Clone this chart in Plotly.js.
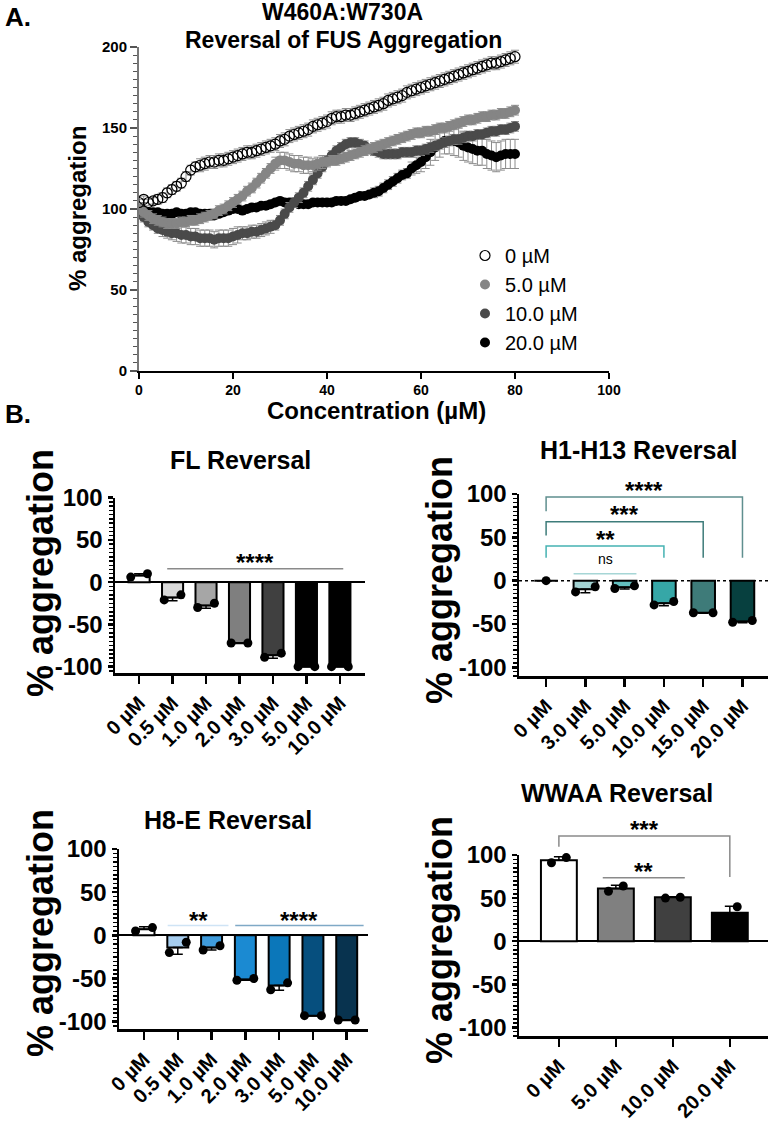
<!DOCTYPE html>
<html><head><meta charset="utf-8">
<script src="https://cdn.plot.ly/plotly-3.0.1.min.js"></script>
<style>html,body{margin:0;padding:0;background:#fff}#chart{width:771px;height:1121px}</style>
</head><body><div id="chart"></div>
<script>
// ---------- Panel A data ----------
const concX = [0,1,2,3,4,5,6,7,8,9,10,11,12,13,14,15,16,17,18,19,20,21,22,23,24,25,26,27,28,29,30,31,32,33,34,35,36,37,38,39,40,41,42,43,44,45,46,47,48,49,50,51,52,53,54,55,56,57,58,59,60,61,62,63,64,65,66,67,68,69,70,71,72,73,74,75,76,77,78,79,80];
const agg0 = [104,106,104,105,106,107,110,112,114,116,120,124,126,127,128,129,129,130,130,131,132,133,134,135,135,136,137,138,139,140,142,143,145,146,147,148,149,151,152,153,154,156,157,157,158,158,159,160,161,162,163,164,165,167,168,169,170,172,173,174,175,176,177,178,179,180,181,182,183,184,185,186,187,188,189,190,190,191,192,193,194];
const err0 = [2,2,2,2,3,3,3,3,3,3,3,3,3,4,4,4,4,4,4,4,4,4,4,4,4,4,4,4,4,4,4,4,4,4,4,4,4,4,4,4,4,4,4,4,4,4,4,4,4,4,4,4,4,4,4,4,4,4,4,4,4,4,4,4,4,4,4,4,4,4,4,4,4,4,4,4,4,4,4,4,4];
const agg5 = [100,98,96,94,93,92,91,91,91,92,92,93,93,94,95,96,97,99,100,102,104,106,108,111,113,116,119,122,125,128,130,130,129,128,128,127,127,127,128,129,129,130,130,131,132,133,134,135,136,137,138,139,140,141,142,143,144,145,146,147,147,148,148,149,150,150,151,152,153,154,155,155,156,157,157,158,158,159,159,160,161];
const err5 = [3,3,3,3,3,3,3,3,3,3,3,3,3,3,3,3,3,3,3,3,3,3,3,3,3,3,3,3,3,4,5,5,5,5,5,5,5,4,4,4,3,3,3,3,3,3,3,3,3,3,3,3,3,3,3,3,3,3,3,3,3,3,3,3,3,3,3,3,3,3,3,3,3,3,3,3,3,3,3,3,3];
const agg10 = [98,95,92,90,88,87,86,85,85,84,84,83,83,82,82,82,81,82,82,82,83,84,85,85,86,86,87,88,89,90,93,97,101,104,107,110,114,118,122,126,130,133,136,138,140,141,141,140,139,137,136,135,134,134,134,134,135,135,135,136,136,137,138,139,140,141,142,143,143,144,145,145,146,146,147,148,148,149,149,150,151];
const err10 = [3,3,3,3,3,4,4,4,5,5,5,5,5,5,5,5,5,5,5,5,5,5,4,4,4,4,4,4,4,3,3,3,3,3,3,3,3,3,3,3,3,3,3,3,3,3,3,3,3,3,3,3,3,3,3,3,3,3,3,3,3,3,3,3,3,3,3,3,3,3,3,3,3,3,3,3,3,3,3,3,3];
const agg20 = [100,99,98,98,98,97,97,97,98,97,97,98,98,97,97,97,96,97,98,99,100,100,99,100,101,101,102,102,103,104,105,104,104,104,103,103,103,104,104,104,104,104,105,105,105,106,107,108,108,109,110,111,113,115,117,119,121,122,125,127,129,132,135,138,140,142,142,142,141,139,138,137,136,136,134,133,132,133,134,134,134];
const err20 = [2,2,2,2,2,2,2,2,2,2,2,2,2,2,2,2,2,2,2,2,2,2,2,2,2,2,2,2,2,2,2,2,2,2,2,2,2,2,2,2,2,2,2,2,2,2,2,2,2,2,3,3,3,3,3,3,3,3,4,5,6,7,8,8,8,8,8,9,9,9,9,9,9,9,9,9,9,9,9,9,9];
const seriesNames = ['0 µM','5.0 µM','10.0 µM','20.0 µM'];
const aTicksX = [0,20,40,60,80,100];
const aTicksY = [0,50,100,150,200];

// ---------- Panel B data ----------
const FL_cats = ['0 µM','0.5 µM','1.0 µM','2.0 µM','3.0 µM','5.0 µM','10.0 µM'];
const FL_mean = [8,-18,-27.5,-72,-86.5,-100,-100];
const FL_rep1 = [6,-21,-30,-72,-89,-100,-100];
const FL_rep2 = [10,-15,-25,-72,-84,-100,-100];
const FL_err  = [2,4,3.5,0.5,3.5,0,0];
const FL_sigFrom = [1], FL_sigTo = [6], FL_sigY = [16], FL_sigDropL = [null], FL_sigDropR = [null];
const FL_sigLabel = ['****'], FL_sigLabelY = [30];

const H1_cats = ['0 µM','3.0 µM','5.0 µM','10.0 µM','15.0 µM','20.0 µM'];
const H1_mean = [0,-10,-7.5,-26,-37,-47];
const H1_rep1 = [0,-13,-9,-28,-37,-48];
const H1_rep2 = [null,-7,-6,-24,-37,-46];
const H1_err  = [0,4,2,3,0.5,1.5];
const H1_sigFrom = [1,0,0,0], H1_sigTo = [2,3,4,5], H1_sigY = [8,40,68,96.5];
const H1_sigDropL = [null,26.5,52,80], H1_sigDropR = [null,26.5,26.5,26.5];
const H1_sigLabel = ['ns','**','***','****'], H1_sigLabelY = [25,54,83,110.7];

const H8_cats = ['0 µM','0.5 µM','1.0 µM','2.0 µM','3.0 µM','5.0 µM','10.0 µM'];
const H8_mean = [7,-14,-14,-51,-58,-93,-98];
const H8_rep1 = [5,-20,-17,-52,-63,-93,-98];
const H8_rep2 = [9,-8,-12,-50,-55,-93,-98];
const H8_err  = [3,8,3,1,5.5,0.5,0.5];
const H8_sigFrom = [1,3], H8_sigTo = [2,6], H8_sigY = [11.5,11.5], H8_sigDropL = [null,null], H8_sigDropR = [null,null];
const H8_sigLabel = ['**','****'], H8_sigLabelY = [24.7,24.7];

const WW_cats = ['0 µM','5.0 µM','10.0 µM','20.0 µM'];
const WW_mean = [94,61,51,33];
const WW_rep1 = [91,58,50,26];
const WW_rep2 = [97,64,51,40];
const WW_err  = [4,4,0.5,7.5];
const WW_sigFrom = [0,1], WW_sigTo = [3,2], WW_sigY = [122,73.5], WW_sigDropL = [109.5,null], WW_sigDropR = [74.6,null];
const WW_sigLabel = ['***','**'], WW_sigLabelY = [137,88];

const bTickVals = [-100,-50,0,50,100];
const bTickText = ['-100','-50','0','50','100'];

// ---------- styling / layout helpers ----------
const W = 771, H = 1121;
const FONT = 'Liberation Sans, Arial, sans-serif';
const PX = p => p / W;
const PY = p => 1 - p / H;
const bold = (s) => ({family: FONT, size: s, color: '#000', weight: 'bold'});

const traces = [];
const annotations = [];
const shapes = [];
const layout = {
  width: W, height: H, margin: {l:0, r:0, t:0, b:0},
  paper_bgcolor: '#fff', plot_bgcolor: 'rgba(0,0,0,0)',
  showlegend: true,
  legend: {x: PX(465), y: PY(236), xanchor: 'left', yanchor: 'top', bgcolor: 'rgba(0,0,0,0)',
           font: {family: FONT, size: 20, color: '#000'}, traceorder: 'normal', itemwidth: 30, tracegroupgap: 0},
  bargap: 0, annotations, shapes
};

// ---------- Panel A ----------
const aStyles = [
  {sym: 'circle-open', color: '#000', lw: 1.2},
  {sym: 'circle', color: '#858585', lw: 0},
  {sym: 'circle', color: '#4a4a4a', lw: 0},
  {sym: 'circle', color: '#000000', lw: 0}
];
const aY = [agg0, agg5, agg10, agg20];
const aE = [err0, err5, err10, err20];
[3,2,1,0].forEach(i => {
  traces.push({
    type: 'scatter', mode: 'markers', x: concX, y: aY[i], name: seriesNames[i],
    legendrank: i + 1, xaxis: 'x', yaxis: 'y',
    marker: {symbol: aStyles[i].sym, size: 10, color: aStyles[i].color,
             line: {color: aStyles[i].color, width: aStyles[i].lw}},
    error_y: {type: 'data', array: aE[i], color: '#8c8c8c', thickness: 1, width: 4},
    hoverinfo: 'skip'
  });
});
layout.xaxis = {domain: [PX(139), PX(609)], range: [0, 100], anchor: 'y',
  tickmode: 'array', tickvals: aTicksX, ticks: 'outside', ticklen: 6, tickwidth: 1.5, tickcolor: '#000',
  showline: true, linecolor: '#000', linewidth: 1.5, showgrid: false, zeroline: false,
  tickfont: bold(14)};
layout.yaxis = {domain: [PY(371), PY(47)], range: [0, 200], anchor: 'x',
  tickmode: 'array', tickvals: aTicksY, ticks: 'outside', ticklen: 7, tickwidth: 1.5, tickcolor: '#555',
  minor: {tick0: 0, dtick: 5, ticks: 'outside', ticklen: 4, tickwidth: 1, tickcolor: '#555'},
  showline: true, linecolor: '#777', linewidth: 2, showgrid: false, zeroline: false,
  tickfont: bold(15)};
annotations.push(
  {text: 'A.', xref: 'paper', yref: 'paper', x: PX(3), y: PY(17), xanchor: 'left', yanchor: 'middle', showarrow: false, font: bold(26)},
  {text: 'W460A:W730A', xref: 'paper', yref: 'paper', x: PX(342), y: PY(12), xanchor: 'center', yanchor: 'middle', showarrow: false, font: bold(23)},
  {text: 'Reversal of FUS Aggregation', xref: 'paper', yref: 'paper', x: PX(343), y: PY(40), xanchor: 'center', yanchor: 'middle', showarrow: false, font: bold(23)},
  {text: '% aggregation', xref: 'paper', yref: 'paper', x: PX(78), y: PY(209), xanchor: 'center', yanchor: 'middle', textangle: -90, showarrow: false, font: bold(24)},
  {text: 'Concentration (µM)', xref: 'paper', yref: 'paper', x: PX(376), y: PY(410), xanchor: 'center', yanchor: 'middle', showarrow: false, font: bold(24)},
  {text: 'B.', xref: 'paper', yref: 'paper', x: PX(3), y: PY(414), xanchor: 'left', yanchor: 'middle', showarrow: false, font: bold(26)}
);

// ---------- Panel B builder ----------
function barPanel(k, d, g) {
  const xa = 'x' + k, ya = 'y' + k, yS = 'y' + (k + 4);
  const idx = d.cats.map((_, i) => i);
  traces.push({
    type: 'bar', x: idx, y: d.mean, xaxis: xa, yaxis: ya, width: g.barW, showlegend: false, hoverinfo: 'skip',
    marker: {color: g.colors, line: {color: '#000', width: 2}},
    error_y: {type: 'data', symmetric: false,
      array: d.mean.map((m, i) => m >= 0 ? d.err[i] : 0),
      arrayminus: d.mean.map((m, i) => m < 0 ? d.err[i] : 0),
      color: '#000', thickness: 1.5, width: 5}
  });
  const dx = [], dy = [];
  idx.forEach(i => {
    if (d.rep2[i] == null) { dx.push(i); dy.push(d.rep1[i]); }
    else { dx.push(i - g.jit, i + g.jit); dy.push(d.rep1[i], d.rep2[i]); }
  });
  traces.push({type: 'scatter', mode: 'markers', x: dx, y: dy, xaxis: xa, yaxis: ya, showlegend: false, hoverinfo: 'skip',
    cliponaxis: false, marker: {color: '#000', size: 9}});

  // significance on an extended (invisible) axis sharing the same scale
  const extTop = g.t - 80;
  const yhi = g.ylo + (100 - g.ylo) * (g.b - extTop) / (g.b - g.t);
  layout['yaxis' + (k + 4)] = {domain: [PY(g.b), PY(extTop)], range: [g.ylo, yhi], anchor: xa, visible: false, fixedrange: true};
  d.sigFrom.forEach((f, j) => {
    const t = d.sigTo[j];
    let xs, ys;
    if (d.sigDropL[j] == null) {
      xs = [f - g.extL, t + g.extR]; ys = [d.sigY[j], d.sigY[j]];
    } else {
      xs = [f, f, t, t]; ys = [d.sigDropL[j], d.sigY[j], d.sigY[j], d.sigDropR[j]];
    }
    traces.push({type: 'scatter', mode: 'lines', x: xs, y: ys, xaxis: xa, yaxis: yS, showlegend: false, hoverinfo: 'skip',
      line: {color: g.sigColors[j], width: 1.5}});
    const isNs = d.sigLabel[j] === 'ns';
    annotations.push({text: d.sigLabel[j], xref: xa, yref: yS, x: (xs[0] + xs[xs.length - 1]) / 2, y: d.sigLabelY[j],
      xanchor: 'center', yanchor: 'middle', showarrow: false, yshift: isNs ? 0 : -6,
      font: isNs ? {family: FONT, size: 14, color: '#000'} : bold(24)});
  });

  layout['xaxis' + k] = {domain: [PX(g.l), PX(g.r)], range: g.xr, anchor: ya,
    tickmode: 'array', tickvals: idx, ticktext: d.cats, tickangle: -45,
    ticks: 'outside', ticklen: 8, tickwidth: 2.5, tickcolor: '#000',
    showline: true, linecolor: '#000', linewidth: 2.5, showgrid: false, zeroline: false,
    tickfont: bold(20)};
  layout['yaxis' + k] = {domain: [PY(g.b), PY(g.t)], range: [g.ylo, 100], anchor: xa,
    tickmode: 'array', tickvals: bTickVals, ticktext: bTickText,
    ticks: 'outside', ticklen: 5, tickwidth: 2.5, tickcolor: '#000',
    minor: {tick0: 0, dtick: 5, ticks: 'outside', ticklen: 4, tickwidth: 1.5, tickcolor: '#000'},
    showline: true, linecolor: '#000', linewidth: 2.5, showgrid: false,
    zeroline: !g.dotZero, zerolinecolor: '#000', zerolinewidth: 2,
    tickfont: bold(24)};
  if (g.dotZero) {
    shapes.push({type: 'line', xref: xa + ' domain', yref: ya, x0: 0, x1: 1, y0: 0, y1: 0,
      line: {color: '#000', width: 1.5, dash: 'dot'}, layer: 'below'});
  }
  annotations.push(
    {text: g.title, xref: 'paper', yref: 'paper', x: PX(g.titleX), y: PY(g.titleY), xanchor: 'center', yanchor: 'middle', showarrow: false, font: bold(25)},
    {text: '% aggregation', xref: 'paper', yref: 'paper', x: PX(g.ytX), y: PY(g.ytY), xanchor: 'center', yanchor: 'middle', textangle: -90, showarrow: false, font: bold(36)}
  );
}

barPanel(2,
  {cats: FL_cats, mean: FL_mean, rep1: FL_rep1, rep2: FL_rep2, err: FL_err,
   sigFrom: FL_sigFrom, sigTo: FL_sigTo, sigY: FL_sigY, sigDropL: FL_sigDropL, sigDropR: FL_sigDropR, sigLabel: FL_sigLabel, sigLabelY: FL_sigLabelY},
  {l: 115, r: 365, t: 497.7, b: 673, xr: [-0.72, 6.75], ylo: -107.5, jit: 0.25, barW: 0.63, extL: 0.16, extR: 0.1,
   colors: ['#ffffff','#d9d9d9','#a6a6a6','#7f7f7f','#404040','#000000','#000000'],
   sigColors: ['#8a8a8a'], dotZero: false, title: 'FL Reversal', titleX: 240, titleY: 460, ytX: 40, ytY: 573});

barPanel(3,
  {cats: H1_cats, mean: H1_mean, rep1: H1_rep1, rep2: H1_rep2, err: H1_err,
   sigFrom: H1_sigFrom, sigTo: H1_sigTo, sigY: H1_sigY, sigDropL: H1_sigDropL, sigDropR: H1_sigDropR, sigLabel: H1_sigLabel, sigLabelY: H1_sigLabelY},
  {l: 519, r: 768, t: 494, b: 676, xr: [-0.69, 5.65], ylo: -110, jit: 0.25, barW: 0.6, extL: 0.3, extR: 0.3,
   colors: ['#ffffff','#a3d3d3','#63bfbf','#36a7a7','#3e7b79','#07403f'],
   sigColors: ['#a6d6d6','#45b2b2','#3e7c7a','#5f8f8f'], dotZero: true, title: 'H1-H13 Reversal', titleX: 638, titleY: 450, ytX: 439, ytY: 580});

barPanel(4,
  {cats: H8_cats, mean: H8_mean, rep1: H8_rep1, rep2: H8_rep2, err: H8_err,
   sigFrom: H8_sigFrom, sigTo: H8_sigTo, sigY: H8_sigY, sigDropL: H8_sigDropL, sigDropR: H8_sigDropR, sigLabel: H8_sigLabel, sigLabelY: H8_sigLabelY},
  {l: 119, r: 368, t: 849, b: 1029.3, xr: [-0.74, 6.63], ylo: -108.8, jit: 0.25, barW: 0.62, extL: 0.3, extR: 0.5,
   colors: ['#ffffff','#a6cdef','#3f9bdb','#1b8ad2','#0b77ba','#064f7e','#08334f'],
   sigColors: ['#cfe4f5','#7fa9c6'], dotZero: false, title: 'H8-E Reversal', titleX: 228, titleY: 820, ytX: 40, ytY: 933});

barPanel(5,
  {cats: WW_cats, mean: WW_mean, rep1: WW_rep1, rep2: WW_rep2, err: WW_err,
   sigFrom: WW_sigFrom, sigTo: WW_sigTo, sigY: WW_sigY, sigDropL: WW_sigDropL, sigDropR: WW_sigDropR, sigLabel: WW_sigLabel, sigLabelY: WW_sigLabelY},
  {l: 519, r: 768, t: 855, b: 1036, xr: [-0.70, 3.67], ylo: -110, jit: 0.13, barW: 0.63, extL: 0.23, extR: 0.21,
   colors: ['#ffffff','#808080','#404040','#000000'],
   sigColors: ['#8a8a8a','#8a8a8a'], dotZero: false, title: 'WWAA Reversal', titleX: 617, titleY: 793, ytX: 439, ytY: 940});

Plotly.newPlot('chart', traces, layout, {staticPlot: true, displayModeBar: false});
</script>
</body></html>
